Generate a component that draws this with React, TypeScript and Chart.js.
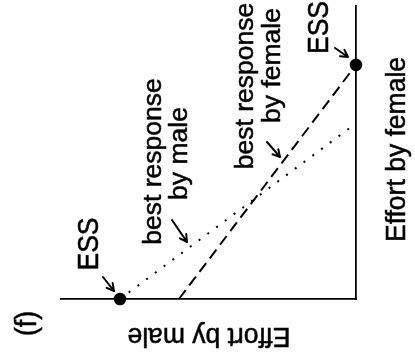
import { useEffect, useRef } from "react";
import { Chart, registerables } from "chart.js";

Chart.register(...registerables);

// ---- data (in effort units) ----
const xRange = [0, 10];
const yRange = [0, 10];
const essX = [2, 10];
const essY = [0, 8];
const maleResponseX = [2, 9.8];
const maleResponseY = [0, 5.85];
const femaleResponseX = [4, 10];
const femaleResponseY = [0, 8];

const xTitle = "Effort by male";
const yTitle = "Effort by female";
const panelLabel = "(f)";
const essLabel = "ESS";
const maleLabel = ["best response", "by male"];
const femaleLabel = ["best response", "by female"];

const toPoints = (xs: number[], ys: number[]) => xs.map((x, i) => ({ x, y: ys[i] }));

const FONT = '26.5px "Liberation Sans", Arial, Helvetica, sans-serif';

const annotationPlugin = {
  id: "annotations",
  afterDraw(chart: any) {
    const ctx: CanvasRenderingContext2D = chart.ctx;
    const texts = [
      { t: essLabel, x: 97.5, y: 244, r: -90, s: 1.08 },
      { t: essLabel, x: 327.5, y: 27.5, r: -90, s: 1.08 },
      { t: maleLabel[0], x: 161, y: 161.5, r: -90, s: 1 },
      { t: maleLabel[1], x: 187, y: 153.5, r: -90, s: 1 },
      { t: femaleLabel[0], x: 253, y: 86, r: -90, s: 1 },
      { t: femaleLabel[1], x: 280, y: 65.5, r: -90, s: 1 },
      { t: yTitle, x: 405, y: 149.5, r: -90, s: 1.04 },
      { t: panelLabel, x: 36, y: 323.5, r: -90, s: 1.08 },
      { t: xTitle, x: 209, y: 328, r: 180, s: 1.04 },
    ];
    ctx.save();
    ctx.fillStyle = "#000";
    ctx.strokeStyle = "#000";
    ctx.lineWidth = 0.5;
    ctx.font = FONT;
    ctx.textAlign = "center";
    ctx.textBaseline = "alphabetic";
    for (const a of texts) {
      ctx.save();
      ctx.translate(a.x, a.y);
      ctx.rotate((a.r * Math.PI) / 180);
      ctx.scale(1, a.s);
      ctx.fillText(a.t, 0, 0);
      ctx.strokeText(a.t, 0, 0);
      ctx.restore();
    }
    const arrows = [
      [103, 277, 114, 291],
      [172, 220, 187, 242],
      [267, 142, 280, 157],
      [335, 48, 348, 57],
    ];
    ctx.lineWidth = 2;
    ctx.lineCap = "round";
    ctx.lineJoin = "round";
    for (const [x1, y1, x2, y2] of arrows) {
      const ang = Math.atan2(y2 - y1, x2 - x1);
      const h = 8;
      ctx.beginPath();
      ctx.moveTo(x1, y1);
      ctx.lineTo(x2, y2);
      ctx.moveTo(x2 - h * Math.cos(ang - 0.5), y2 - h * Math.sin(ang - 0.5));
      ctx.lineTo(x2, y2);
      ctx.lineTo(x2 - h * Math.cos(ang + 0.5), y2 - h * Math.sin(ang + 0.5));
      ctx.stroke();
    }
    ctx.restore();
  },
};

export default function App() {
  const ref = useRef<HTMLCanvasElement>(null);
  useEffect(() => {
    if (!ref.current) return;
    const chart = new Chart(ref.current, {
      type: "scatter",
      data: {
        datasets: [
          {
            label: "ESS",
            data: toPoints(essX, essY),
            showLine: false,
            pointRadius: 6.3,
            pointBackgroundColor: "#000",
            pointBorderColor: "#000",
            pointBorderWidth: 0,
            clip: false,
          } as any,
          {
            label: "best response by male",
            data: toPoints(maleResponseX, maleResponseY),
            showLine: true,
            borderColor: "#000",
            borderWidth: 2,
            borderDash: [2, 8.9],
            borderCapStyle: "butt",
            pointRadius: 0,
            clip: false,
          } as any,
          {
            label: "best response by female",
            data: toPoints(femaleResponseX, femaleResponseY),
            showLine: true,
            borderColor: "#000",
            borderWidth: 2,
            borderDash: [11, 6],
            borderCapStyle: "butt",
            pointRadius: 0,
            clip: false,
          } as any,
        ],
      },
      options: {
        animation: false,
        responsive: false,
        devicePixelRatio: 1,
        layout: { padding: { left: 61, right: 59, top: 3, bottom: 62 } },
        plugins: { legend: { display: false }, tooltip: { enabled: false } },
        events: [],
        scales: {
          x: {
            type: "linear",
            position: "bottom",
            min: xRange[0],
            max: xRange[1],
            ticks: { display: false },
            grid: { display: false, drawTicks: false },
            border: { display: true, color: "#000", width: 1.8 },
            afterFit: (s: any) => {
              s.height = 0;
            },
          },
          y: {
            type: "linear",
            position: "right",
            min: yRange[0],
            max: yRange[1],
            ticks: { display: false },
            grid: { display: false, drawTicks: false },
            border: { display: true, color: "#000", width: 1.8 },
            afterFit: (s: any) => {
              s.width = 0;
            },
          },
        },
      },
      plugins: [annotationPlugin],
    });
    return () => chart.destroy();
  }, []);
  return (
    <div style={{ position: "fixed", left: 0, top: 0, width: 415, height: 361, background: "#fff" }}>
      <canvas ref={ref} width={415} height={361} />
    </div>
  );
}
